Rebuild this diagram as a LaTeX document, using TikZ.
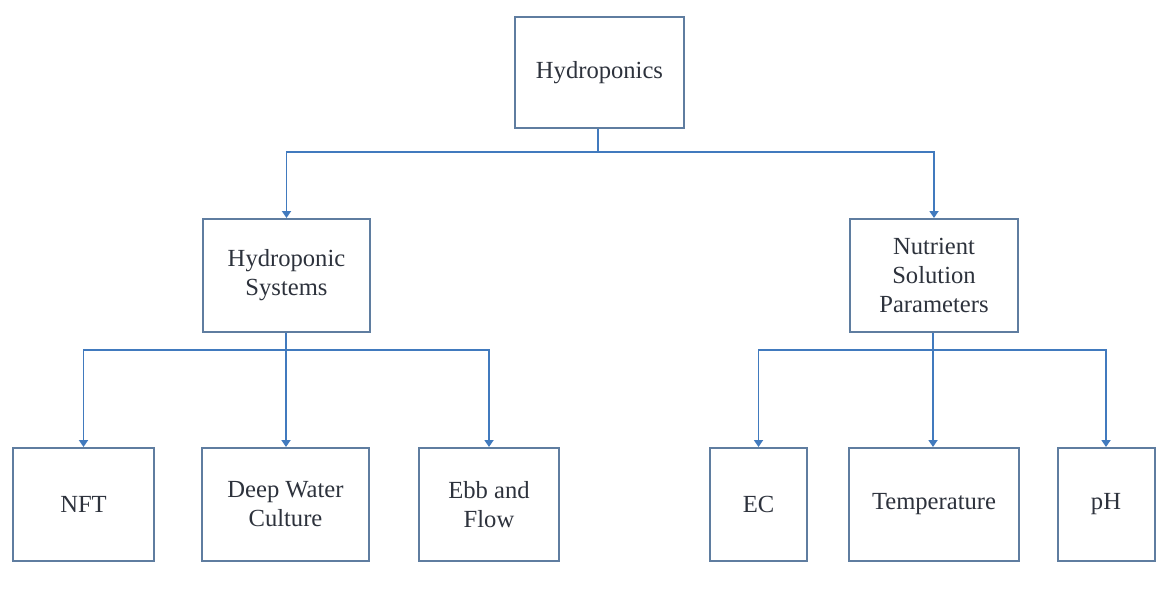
\documentclass[tikz,border=0pt]{standalone}
\usepackage{fontspec}
\setmainfont{Liberation Serif}
\usetikzlibrary{arrows.meta}
\definecolor{boxline}{RGB}{95,125,160}
\definecolor{linkline}{RGB}{65,122,190}
\definecolor{labeltext}{RGB}{45,50,60}
\tikzset{
  item/.style={draw=boxline, line width=1pt, rectangle, align=center,
    text=labeltext, font=\fontsize{12.3}{14.5}\selectfont, inner sep=0pt},
  link/.style={draw=linkline, line width=0.9pt},
  arrowlink/.style={link, -{Triangle[width=4.5pt,length=3.5pt]}},
}
\begin{document}
\begin{tikzpicture}[x=0.5pt,y=-0.5pt]
\useasboundingbox (0,0) rectangle (1156,591);
% root
\node[item, minimum width=84.5pt, minimum height=55.5pt] (root) at (599.5,72.5) {Hydroponics};
% second level
\node[item, minimum width=83.5pt, minimum height=56.5pt] (sys) at (286.5,275.5) {Hydroponic\\Systems};
\node[item, minimum width=84pt, minimum height=56.5pt] (nut) at (934,275.5) {Nutrient\\Solution\\Parameters};
% third level
\node[item, minimum width=70.5pt, minimum height=56.5pt] (nft) at (83.5,504.5) {NFT};
\node[item, minimum width=83.5pt, minimum height=56.5pt] (dwc) at (285.5,504.5) {Deep Water\\Culture};
\node[item, minimum width=70pt, minimum height=56.5pt] (ebb) at (489,504.5) {Ebb and\\Flow};
\node[item, minimum width=48.5pt, minimum height=56.5pt] (ec) at (758.5,504.5) {EC};
\node[item, minimum width=85pt, minimum height=56.5pt] (temp) at (934,504.5) {Temperature};
\node[item, minimum width=48.5pt, minimum height=56.5pt] (ph) at (1106,504.5) {pH};
% junctions
\coordinate (j0) at (598,152);
\coordinate (j1) at (286,350);
\coordinate (j2) at (933,350);
% connectors
\draw[link] (root.south -| j0) -- (j0);
\draw[arrowlink] (j0) -| (sys.north);
\draw[arrowlink] (j0) -| (nut.north);
\draw[link] (sys.south -| j1) -- (j1);
\draw[arrowlink] (j1) -| (nft.north);
\draw[arrowlink] (j1) -- (dwc.north -| j1);
\draw[arrowlink] (j1) -| (ebb.north);
\draw[link] (nut.south -| j2) -- (j2);
\draw[arrowlink] (j2) -| (ec.north);
\draw[arrowlink] (j2) -- (temp.north -| j2);
\draw[arrowlink] (j2) -| (ph.north);
\end{tikzpicture}
\end{document}
